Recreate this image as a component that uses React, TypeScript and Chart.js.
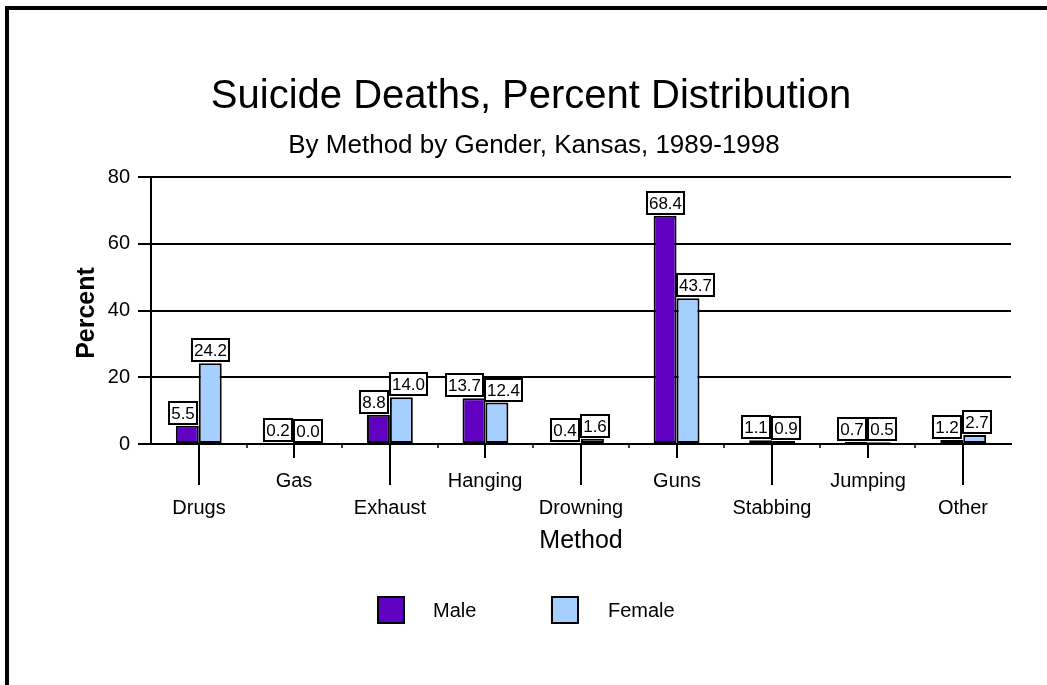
import React, { useEffect, useRef } from 'react';
import { Chart, registerables } from 'chart.js';

Chart.register(...registerables);

const categories = ['Drugs', 'Gas', 'Exhaust', 'Hanging', 'Drowning', 'Guns', 'Stabbing', 'Jumping', 'Other'];
const maleValues = [5.5, 0.2, 8.8, 13.7, 0.4, 68.4, 1.1, 0.7, 1.2];
const femaleValues = [24.2, 0.0, 14.0, 12.4, 1.6, 43.7, 0.9, 0.5, 2.7];
const seriesNames = ['Male', 'Female'];
const yMin = 0;
const yMax = 80;
const yStep = 20;
const titleText = 'Suicide Deaths, Percent Distribution';
const subtitleText = 'By Method by Gender, Kansas, 1989-1998';
const xTitleText = 'Method';
const yTitleText = 'Percent';

const FONT = '"Liberation Sans", Arial, Helvetica, sans-serif';
const MALE_COLOR = '#6000C0';
const FEMALE_COLOR = '#A4CFFF';
const W = 1047;
const H = 685;

const decorPlugin = {
  id: 'decor',
  beforeDraw(chart: any) {
    const ctx = chart.ctx;
    ctx.save();
    ctx.fillStyle = '#fff';
    ctx.fillRect(0, 0, W, H);
    // frame
    ctx.strokeStyle = '#000';
    ctx.lineWidth = 4;
    ctx.beginPath();
    ctx.moveTo(7, H + 2);
    ctx.lineTo(7, 8);
    ctx.lineTo(W + 2, 8);
    ctx.stroke();
    ctx.restore();
  },
  afterDraw(chart: any) {
    const ctx = chart.ctx;
    const xs = chart.scales.x;
    const area = chart.chartArea;
    ctx.save();
    ctx.fillStyle = '#000';
    ctx.strokeStyle = '#000';

    // titles
    ctx.textAlign = 'center';
    ctx.textBaseline = 'alphabetic';
    ctx.font = `40px ${FONT}`;
    ctx.fillText(titleText, 531, 108);
    ctx.font = `26px ${FONT}`;
    ctx.fillText(subtitleText, 534, 153);

    // x ticks (alternating lengths) and labels
    ctx.lineWidth = 2;
    categories.forEach((c, i) => {
      const px = Math.round(xs.getPixelForValue(i));
      const long = i % 2 === 0;
      ctx.beginPath();
      ctx.moveTo(px, area.bottom);
      ctx.lineTo(px, long ? 485 : 458);
      ctx.stroke();
      ctx.font = `20px ${FONT}`;
      ctx.textBaseline = 'middle';
      ctx.fillText(c, px, long ? 508 : 481);
    });
    // minor ticks at category boundaries
    ctx.lineWidth = 1.5;
    for (let i = 0; i < categories.length - 1; i++) {
      const bx = Math.round((xs.getPixelForValue(i) + xs.getPixelForValue(i + 1)) / 2);
      ctx.beginPath();
      ctx.moveTo(bx, area.bottom);
      ctx.lineTo(bx, area.bottom + 4);
      ctx.stroke();
    }

    // axis titles
    ctx.textBaseline = 'alphabetic';
    ctx.font = `25px ${FONT}`;
    ctx.fillText(xTitleText, (area.left + area.right) / 2, 548);
    ctx.save();
    ctx.translate(94, 313);
    ctx.rotate(-Math.PI / 2);
    ctx.font = `bold 25px ${FONT}`;
    ctx.fillText(yTitleText, 0, 0);
    ctx.restore();

    // legend
    const legendItems = [
      { name: seriesNames[0], color: MALE_COLOR, box: 377, text: 433 },
      { name: seriesNames[1], color: FEMALE_COLOR, box: 551, text: 608 },
    ];
    legendItems.forEach((it) => {
      ctx.fillStyle = it.color;
      ctx.fillRect(it.box, 596, 28, 28);
      ctx.lineWidth = 2;
      ctx.strokeStyle = '#000';
      ctx.strokeRect(it.box + 1, 597, 26, 26);
      ctx.fillStyle = '#000';
      ctx.font = `20px ${FONT}`;
      ctx.textAlign = 'left';
      ctx.textBaseline = 'middle';
      ctx.fillText(it.name, it.text, 611);
    });

    ctx.restore();
  },
  afterDatasetsDraw(chart: any) {
    const ctx = chart.ctx;
    const xs = chart.scales.x;
    ctx.save();
    ctx.font = `17px ${FONT}`;
    ctx.textAlign = 'center';
    ctx.textBaseline = 'middle';
    const mMeta = chart.getDatasetMeta(0);
    const fMeta = chart.getDatasetMeta(1);
    const bh = 24;
    const boxFor = (el: any, v: number) => {
      const label = v.toFixed(1);
      const bw = Math.round(ctx.measureText(label).width + 6);
      const bottom = Math.round(Math.min(el.y, el.base) - 1);
      return { label, bw, x0: Math.round(el.x - bw / 2), y0: bottom - bh, bottom };
    };
    const drawBox = (b: any) => {
      ctx.fillStyle = '#fff';
      ctx.fillRect(b.x0, b.y0, b.bw, bh);
      ctx.lineWidth = 2;
      ctx.strokeStyle = '#000';
      ctx.strokeRect(b.x0 + 1, b.y0 + 1, b.bw - 2, bh - 2);
      ctx.fillStyle = '#000';
      ctx.fillText(b.label, b.x0 + b.bw / 2, b.y0 + bh / 2 + 1);
    };
    categories.forEach((_, i) => {
      const cx = Math.round(xs.getPixelForValue(i));
      const mEl = mMeta.data[i];
      const fEl = fMeta.data[i];
      const mb = boxFor(mEl, maleValues[i]);
      const fb = boxFor(fEl, femaleValues[i]);
      const vOverlap = mb.y0 < fb.bottom && fb.y0 < mb.bottom;
      const mTop = Math.min(mEl.y, mEl.base);
      const fTop = Math.min(fEl.y, fEl.base);
      const shiftM = vOverlap || mb.bottom > fTop;
      const shiftF = vOverlap || fb.bottom > mTop;
      if (shiftM && mb.x0 + mb.bw > cx - 1) mb.x0 = cx - 1 - mb.bw;
      if (shiftF && fb.x0 < cx - 1) fb.x0 = cx - 1;
      drawBox(mb);
      drawBox(fb);
    });
    ctx.restore();
  },
};

export default function App() {
  const ref = useRef<HTMLCanvasElement | null>(null);
  useEffect(() => {
    if (!ref.current) return;
    const chart = new Chart(ref.current, {
      type: 'bar',
      data: {
        labels: categories,
        datasets: [
          {
            label: seriesNames[0],
            data: maleValues,
            backgroundColor: MALE_COLOR,
            borderColor: '#000',
            borderWidth: 2,
            borderSkipped: false,
            categoryPercentage: 0.48,
            barPercentage: 1.0,
          },
          {
            label: seriesNames[1],
            data: femaleValues,
            backgroundColor: FEMALE_COLOR,
            borderColor: '#000',
            borderWidth: 2,
            borderSkipped: false,
            categoryPercentage: 0.48,
            barPercentage: 1.0,
          },
        ],
      },
      options: {
        responsive: false,
        animation: false,
        events: [],
        layout: { padding: { left: 0, right: 36, top: 177, bottom: 0 } },
        plugins: {
          legend: { display: false },
          title: { display: false },
          tooltip: { enabled: false },
        },
        scales: {
          x: {
            grid: { display: false, drawTicks: false },
            border: { display: true, color: '#000', width: 2 },
            ticks: { display: false },
            afterFit: (s: any) => {
              s.height = 241;
            },
          },
          y: {
            min: yMin,
            max: yMax,
            ticks: {
              stepSize: yStep,
              padding: 8,
              color: '#000',
              font: { family: FONT, size: 20 },
            },
            grid: { color: '#000', lineWidth: 2, tickLength: 13, drawTicks: true, tickColor: '#000' },
            border: { display: true, color: '#000', width: 2 },
            afterFit: (s: any) => {
              s.width = 151;
            },
          },
        },
      },
      plugins: [decorPlugin],
    } as any);
    return () => chart.destroy();
  }, []);
  return (
    <div style={{ position: 'fixed', left: 0, top: 0, width: W, height: H, background: '#fff' }}>
      <canvas ref={ref} width={W} height={H} style={{ display: 'block', width: W, height: H }} />
    </div>
  );
}
